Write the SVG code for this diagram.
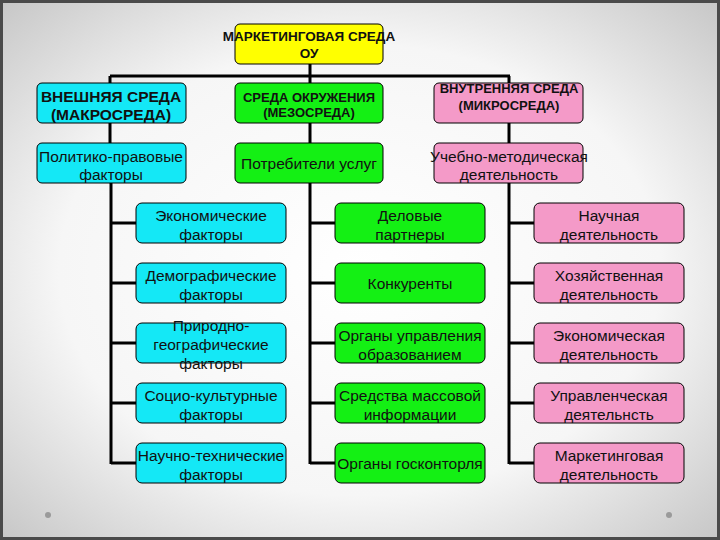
<svg xmlns="http://www.w3.org/2000/svg" width="720" height="540" viewBox="0 0 720 540">
<defs>
<radialGradient id="bg" cx="50%" cy="50%" r="70%">
<stop offset="0" stop-color="#ffffff"/>
<stop offset="0.6" stop-color="#f6f6f6"/>
<stop offset="1" stop-color="#c8c8c8"/>
</radialGradient>
<style>
.box{stroke:#000;stroke-width:1}
.y{fill:#ffff00}.c{fill:#14e8f6}.g{fill:#14f014}.p{fill:#f49ac8}
text{font-family:"Liberation Sans",Arial,sans-serif;fill:#111;text-anchor:middle}
.h{font-weight:bold}
.t{font-size:15.5px}
.ln{stroke:#000;stroke-width:3;fill:none}
</style>
</defs>
<rect x="1.5" y="1.5" width="717" height="537" fill="url(#bg)" stroke="#4a4a4a" stroke-width="3"/>
<g id="connectors">
<path class="ln" d="M310 64V76M110 76H510M110 76V83M310 76V83M509 76V83"/>
<path class="ln" d="M110 123V143M310 123V143M509 123V143"/>
<path class="ln" d="M111 183V464M111 223H136M111 283H136M111 343H136M111 403H136M111 463H136"/>
<path class="ln" d="M310 183V464M310 223H335M310 283H335M310 343H335M310 403H335M310 463H335"/>
<path class="ln" d="M509 183V464M509 223H534M509 283H534M509 343H534M509 403H534M509 463H534"/>
</g>
<g id="top"><rect class="box y" x="235" y="24" width="148" height="40" rx="5"/>
<text class="h" font-size="13.5" x="309" y="41">МАРКЕТИНГОВАЯ СРЕДА</text><text class="h" font-size="13.5" x="309" y="58">ОУ</text></g>
<g id="macro"><rect class="box c" x="37" y="83" width="149" height="40" rx="5"/>
<text class="h" font-size="15.5" x="111" y="101.5">ВНЕШНЯЯ СРЕДА</text><text class="h" font-size="15.5" x="111" y="119.5">(МАКРОСРЕДА)</text></g>
<g id="meso"><rect class="box g" x="235" y="83" width="148" height="40" rx="5"/>
<text class="h" font-size="13" x="309" y="102">СРЕДА ОКРУЖЕНИЯ</text><text class="h" font-size="13" x="309" y="117">(МЕЗОСРЕДА)</text></g>
<g id="micro"><rect class="box p" x="434" y="83" width="149" height="40" rx="5"/>
<text class="h" font-size="13" x="509" y="93">ВНУТРЕННЯЯ СРЕДА</text><text class="h" font-size="13" x="509" y="110">(МИКРОСРЕДА)</text></g>
<g id="l0"><rect class="box c" x="37" y="143" width="149" height="40" rx="5"/>
<text class="t" x="111" y="162">Политико-правовые</text><text class="t" x="111" y="180">факторы</text></g>
<g id="m0"><rect class="box g" x="235" y="143" width="148" height="40" rx="5"/>
<text class="t" x="309" y="169">Потребители услуг</text></g>
<g id="r0"><rect class="box p" x="434" y="143" width="149" height="40" rx="5"/>
<text class="t" x="509" y="162">Учебно-методическая</text><text class="t" x="509" y="180">деятельность</text></g>

<g id="l1"><rect class="box c" x="136" y="203" width="150" height="40" rx="6"/>
<text class="t" x="211" y="221">Экономические</text><text class="t" x="211" y="240">факторы</text></g>
<g id="l2"><rect class="box c" x="136" y="263" width="150" height="40" rx="6"/>
<text class="t" x="211" y="281">Демографические</text><text class="t" x="211" y="300">факторы</text></g>
<g id="l3"><rect class="box c" x="136" y="323" width="150" height="40" rx="6"/>
<text class="t" x="211" y="331">Природно-</text><text class="t" x="211" y="350">географические</text><text class="t" x="211" y="369">факторы</text></g>
<g id="l4"><rect class="box c" x="136" y="383" width="150" height="40" rx="6"/>
<text class="t" x="211" y="401">Социо-культурные</text><text class="t" x="211" y="420">факторы</text></g>
<g id="l5"><rect class="box c" x="136" y="443" width="150" height="40" rx="6"/>
<text class="t" x="211" y="461">Научно-технические</text><text class="t" x="211" y="480">факторы</text></g>

<g id="m1"><rect class="box g" x="335" y="203" width="150" height="40" rx="6"/>
<text class="t" x="410" y="221">Деловые</text><text class="t" x="410" y="240">партнеры</text></g>
<g id="m2"><rect class="box g" x="335" y="263" width="150" height="40" rx="6"/>
<text class="t" x="410" y="289">Конкуренты</text></g>
<g id="m3"><rect class="box g" x="335" y="323" width="150" height="40" rx="6"/>
<text class="t" x="410" y="341">Органы управления</text><text class="t" x="410" y="360">образованием</text></g>
<g id="m4"><rect class="box g" x="335" y="383" width="150" height="40" rx="6"/>
<text class="t" x="410" y="401">Средства массовой</text><text class="t" x="410" y="420">информации</text></g>
<g id="m5"><rect class="box g" x="335" y="443" width="150" height="40" rx="6"/>
<text class="t" x="410" y="469">Органы госконторля</text></g>

<g id="r1"><rect class="box p" x="534" y="203" width="150" height="40" rx="6"/>
<text class="t" x="609" y="221">Научная</text><text class="t" x="609" y="240">деятельность</text></g>
<g id="r2"><rect class="box p" x="534" y="263" width="150" height="40" rx="6"/>
<text class="t" x="609" y="281">Хозяйственная</text><text class="t" x="609" y="300">деятельность</text></g>
<g id="r3"><rect class="box p" x="534" y="323" width="150" height="40" rx="6"/>
<text class="t" x="609" y="341">Экономическая</text><text class="t" x="609" y="360">деятельность</text></g>
<g id="r4"><rect class="box p" x="534" y="383" width="150" height="40" rx="6"/>
<text class="t" x="609" y="401">Управленческая</text><text class="t" x="609" y="420">деятельнсть</text></g>
<g id="r5"><rect class="box p" x="534" y="443" width="150" height="40" rx="6"/>
<text class="t" x="609" y="461">Маркетинговая</text><text class="t" x="609" y="480">деятельность</text></g>
<circle cx="48" cy="515" r="3" fill="#9a9a9a"/>
<circle cx="669" cy="515" r="3" fill="#9a9a9a"/>
</svg>
